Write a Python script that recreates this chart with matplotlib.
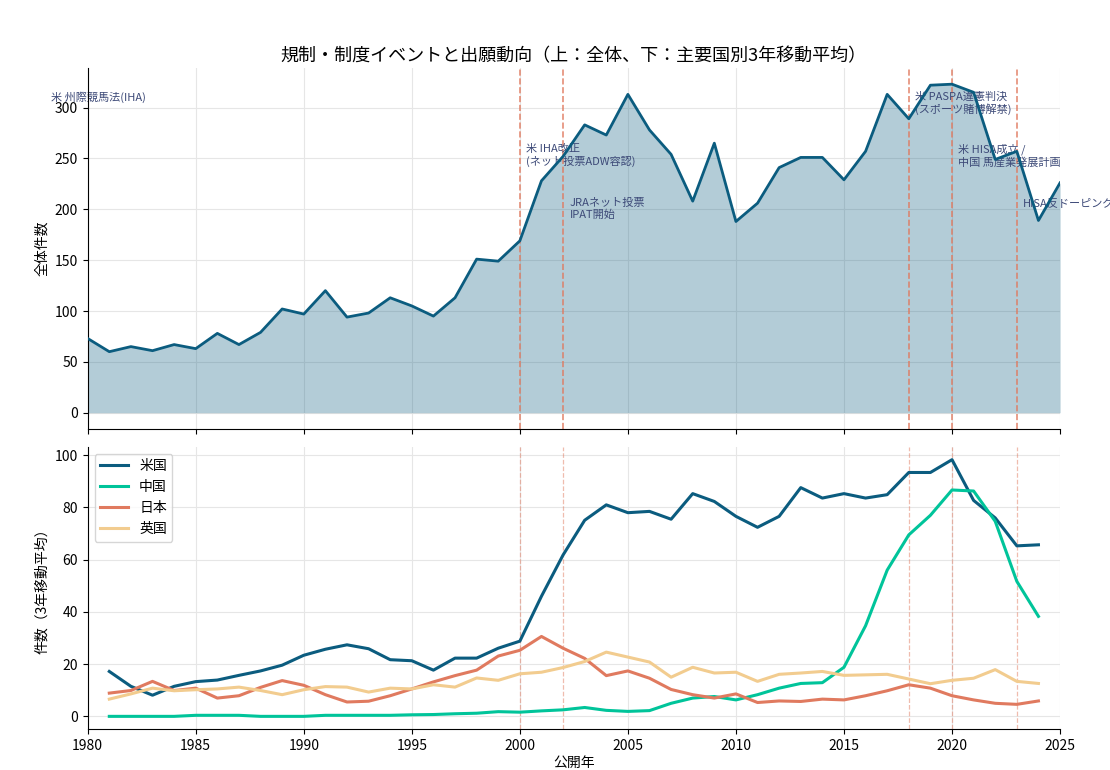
import matplotlib
matplotlib.use('Agg')
from matplotlib import pyplot as plt
import numpy as np

plt.rcParams['font.family'] = ['Noto Sans CJK JP', 'DejaVu Sans']

# 全体件数（1980-2025）
years = list(range(1980, 2026))
total = [73, 60, 65, 61, 67, 63, 78, 67, 79, 102,
         97, 120, 94, 98, 113, 105, 95, 113, 151, 149,
         169, 228, 252, 283, 273, 313, 278, 254, 208, 265,
         188, 206, 241, 251, 251, 229, 257, 313, 289, 322,
         323, 315, 249, 257, 189, 226]

# 主要国別 3年移動平均（1981-2024）
ma_years = list(range(1981, 2025))
us = [17.2, 11.5, 8.1, 11.5, 13.3, 13.9, 15.7, 17.4, 19.6, 23.4,
      25.7, 27.4, 25.9, 21.7, 21.3, 17.7, 22.3, 22.3, 26.1, 28.8,
      46.0, 61.8, 75.1, 81.0, 78.0, 78.5, 75.5, 85.3, 82.3, 76.6,
      72.4, 76.6, 87.6, 83.6, 85.3, 83.6, 84.9, 93.4, 93.4, 98.3,
      82.7, 76.0, 65.3, 65.7]
cn = [0.0, 0.0, 0.0, 0.0, 0.4, 0.4, 0.4, 0.0, 0.0, 0.0,
      0.4, 0.4, 0.4, 0.4, 0.6, 0.7, 1.0, 1.2, 1.8, 1.6,
      2.1, 2.5, 3.4, 2.3, 1.9, 2.2, 5.0, 7.0, 7.6, 6.3,
      8.3, 10.8, 12.6, 12.9, 18.8, 34.7, 56.0, 69.5, 77.0, 86.7,
      86.3, 74.7, 51.7, 38.3]
jp = [8.9, 9.9, 13.4, 9.9, 10.8, 7.0, 7.9, 11.1, 13.7, 11.9,
      8.3, 5.5, 5.8, 7.9, 10.5, 13.2, 15.6, 17.7, 23.1, 25.3,
      30.6, 26.1, 22.2, 15.6, 17.4, 14.6, 10.3, 8.3, 7.0, 8.6,
      5.3, 5.9, 5.7, 6.6, 6.3, 7.9, 9.8, 12.1, 10.8, 7.9,
      6.3, 5.0, 4.6, 5.9]
uk = [6.6, 8.6, 10.8, 9.8, 10.2, 10.5, 11.2, 9.9, 8.3, 10.2,
      11.4, 11.2, 9.3, 10.8, 10.5, 12.1, 11.2, 14.7, 13.8, 16.3,
      16.9, 18.7, 21.0, 24.6, 22.7, 20.8, 15.0, 18.8, 16.6, 16.9,
      13.4, 16.1, 16.6, 17.2, 15.7, 15.9, 16.1, 14.3, 12.5, 13.8,
      14.6, 17.9, 13.4, 12.6]

event_years = [1978, 2000, 2002, 2018, 2020, 2023]
event_labels = ['米 州際競馬法(IHA)',
                '米 IHA改正\n(ネット投票ADW容認)',
                'JRAネット投票\nIPAT開始',
                '米 PASPA違憲判決\n(スポーツ賭博解禁)',
                '米 HISA成立 /\n中国 馬産業発展計画',
                'HISA反ドーピング施行']
label_heights = [0.935, 0.79, 0.64]

c_us = '#0b5c7f'
c_cn = '#00c49a'
c_jp = '#e07a5f'
c_uk = '#f2cc8f'

fig, (ax1, ax2) = plt.subplots(2, 1, figsize=(11.1, 7.7), dpi=100, sharex=True,
                               gridspec_kw={'height_ratios': [1.28, 1]})
fig.subplots_adjust(left=0.079, right=0.955, top=0.912, bottom=0.053, hspace=0.055)

ax1.fill_between(years, total, color=c_us, alpha=0.31, lw=0)
ax1.plot(years, total, color=c_us, lw=2, zorder=3)
ax1.set_ylabel('全体件数', fontsize=10)
ax1.set_title('規制・制度イベントと出願動向（上：全体、下：主要国別3年移動平均）', fontsize=13, pad=5)

for i, (yr, lab) in enumerate(zip(event_years, event_labels)):
    ax1.axvline(yr, color=c_jp, ls='--', lw=1.2, alpha=0.85)
    ax2.axvline(yr, color=c_jp, ls='--', lw=0.9, alpha=0.5)
    ax1.text(yr + 0.3, label_heights[i % 3], lab, transform=ax1.get_xaxis_transform(),
             va='top', ha='left', fontsize=8, color='#3d4a78', clip_on=False, zorder=2.5)

ax2.plot(ma_years, us, color=c_us, lw=2.2, label='米国')
ax2.plot(ma_years, cn, color=c_cn, lw=2.2, label='中国')
ax2.plot(ma_years, jp, color=c_jp, lw=2.2, label='日本')
ax2.plot(ma_years, uk, color=c_uk, lw=2.2, label='英国')
ax2.set_ylabel('件数（3年移動平均）', fontsize=10)
ax2.set_xlabel('公開年', fontsize=10, labelpad=2)
ax2.legend(loc='upper left', fontsize=10)

ax2.set_xlim(1980, 2025)
for ax in (ax1, ax2):
    ax.grid(True, color='#e6e6e6', lw=0.8)
    ax.set_axisbelow(True)
    ax.spines['top'].set_visible(False)
    ax.spines['right'].set_visible(False)
    ax.tick_params(labelsize=10)

plt.savefig('out.png')
